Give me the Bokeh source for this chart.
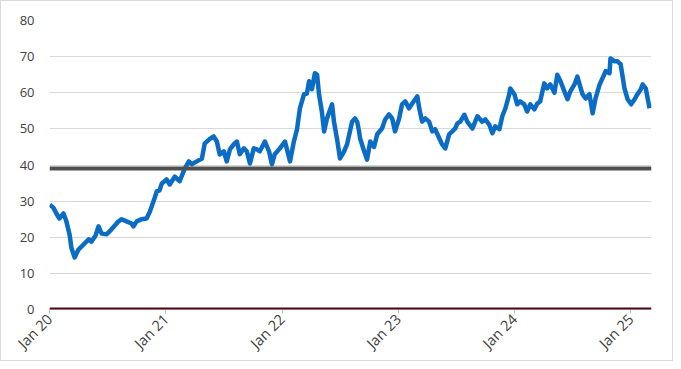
import math
import pandas as pd
from bokeh.plotting import figure
from bokeh.models import Span, FixedTicker, DatetimeTickFormatter, Range1d, ColumnDataSource
from bokeh.embed import file_html
from bokeh.resources import INLINE

dates = [
    "2020-01-02", "2020-01-13", "2020-01-23", "2020-02-01", "2020-02-14", "2020-02-23",
    "2020-03-04", "2020-03-10", "2020-03-20", "2020-04-01", "2020-04-17", "2020-05-03",
    "2020-05-12", "2020-05-25", "2020-06-03", "2020-06-13", "2020-06-28", "2020-07-14",
    "2020-08-05", "2020-08-15", "2020-08-30", "2020-09-15", "2020-09-21", "2020-10-01",
    "2020-10-17", "2020-11-01", "2020-11-11", "2020-11-27", "2020-12-03", "2020-12-12",
    "2020-12-19", "2021-01-03", "2021-01-13", "2021-01-29", "2021-02-13", "2021-03-01",
    "2021-03-14", "2021-03-23", "2021-04-08", "2021-04-24", "2021-05-03", "2021-05-16",
    "2021-05-31", "2021-06-10", "2021-06-19", "2021-07-02", "2021-07-11", "2021-07-21",
    "2021-08-02", "2021-08-12", "2021-08-21", "2021-09-03", "2021-09-12", "2021-09-22",
    "2021-10-04", "2021-10-14", "2021-10-23", "2021-11-08", "2021-11-21", "2021-11-30",
    "2021-12-09", "2021-12-25", "2022-01-10", "2022-01-26", "2022-02-07", "2022-02-17",
    "2022-02-26", "2022-03-11", "2022-03-20", "2022-03-27", "2022-04-05", "2022-04-14",
    "2022-04-21", "2022-04-27", "2022-05-06", "2022-05-13", "2022-05-22", "2022-06-07",
    "2022-06-13", "2022-06-23", "2022-07-02", "2022-07-15", "2022-07-24", "2022-08-09",
    "2022-08-18", "2022-08-25", "2022-08-31", "2022-09-03", "2022-09-16", "2022-09-25",
    "2022-10-05", "2022-10-17", "2022-10-27", "2022-11-11", "2022-11-21", "2022-12-03",
    "2022-12-13", "2022-12-22", "2023-01-04", "2023-01-13", "2023-01-23", "2023-02-04",
    "2023-02-14", "2023-03-02", "2023-03-08", "2023-03-17", "2023-03-27", "2023-04-08",
    "2023-04-18", "2023-04-27", "2023-05-10", "2023-05-19", "2023-05-29", "2023-06-10",
    "2023-06-20", "2023-06-29", "2023-07-06", "2023-07-15", "2023-07-28", "2023-08-06",
    "2023-08-22", "2023-09-07", "2023-09-22", "2023-10-02", "2023-10-14", "2023-10-24",
    "2023-11-02", "2023-11-15", "2023-11-24", "2023-12-04", "2023-12-16", "2023-12-19",
    "2024-01-01", "2024-01-10", "2024-01-19", "2024-02-01", "2024-02-10", "2024-02-20",
    "2024-03-04", "2024-03-13", "2024-03-22", "2024-04-04", "2024-04-13", "2024-04-23",
    "2024-05-06", "2024-05-15", "2024-05-25", "2024-06-06", "2024-06-16", "2024-06-25",
    "2024-07-08", "2024-07-17", "2024-07-24", "2024-08-02", "2024-08-12", "2024-08-24",
    "2024-09-03", "2024-09-12", "2024-09-25", "2024-10-04", "2024-10-14", "2024-10-26",
    "2024-10-29", "2024-11-11", "2024-11-20", "2024-11-30", "2024-12-12", "2024-12-22",
    "2025-01-02", "2025-01-13", "2025-01-22", "2025-02-01", "2025-02-07", "2025-02-17",
    "2025-02-23", "2025-03-01",
]

values = [
    29.0, 28.2, 26.5, 25.2, 26.6, 24.4,
    20.8, 17.0, 14.4, 16.6, 18.0, 19.4,
    18.8, 20.5, 23.0, 21.0, 20.8, 22.2,
    24.4, 25.0, 24.4, 23.8, 23.0, 24.4,
    25.0, 25.2, 27.0, 31.0, 32.7, 33.0,
    34.9, 36.0, 34.6, 36.8, 35.5, 39.0,
    41.0, 40.2, 41.0, 41.8, 46.0, 47.0,
    47.9, 46.5, 42.9, 43.8, 41.0, 44.3,
    45.7, 46.5, 43.0, 44.6, 43.8, 40.4,
    44.6, 44.3, 43.8, 46.5, 43.8, 40.2,
    43.0, 44.6, 46.5, 41.0, 46.5, 49.9,
    55.7, 59.6, 59.8, 63.2, 61.0, 65.4,
    65.0, 59.6, 54.8, 49.3, 52.9, 56.8,
    52.0, 47.0, 41.8, 43.8, 45.7, 52.0,
    52.9, 52.0, 49.3, 47.4, 43.8, 41.5,
    46.5, 45.0, 48.5, 50.1, 52.6, 54.0,
    52.9, 49.3, 52.9, 56.8, 57.6, 55.7,
    57.0, 59.0, 55.7, 52.0, 52.9, 52.0,
    49.3, 49.9, 47.4, 45.7, 44.6, 48.5,
    49.3, 50.1, 51.5, 52.0, 53.9, 52.0,
    50.1, 53.5, 52.0, 52.6, 51.2, 48.8,
    50.7, 49.9, 53.5, 55.7, 59.6, 61.2,
    59.6, 56.8, 57.6, 56.8, 54.8, 56.8,
    55.4, 57.0, 57.6, 62.6, 61.2, 62.3,
    60.0, 65.0, 63.2, 60.4, 58.2, 60.4,
    62.3, 64.5, 62.3, 59.6, 58.4, 59.6,
    54.3, 58.4, 62.3, 64.0, 66.0, 65.4,
    69.5, 68.7, 68.7, 67.9, 61.2, 58.2,
    56.8, 58.2, 59.6, 60.9, 62.3, 61.2,
    58.4, 55.7,
]

threshold = 39.0
baseline = 0.0
tick_dates = ["2020-01-01", "2021-01-01", "2022-01-01", "2023-01-01", "2024-01-01", "2025-01-01"]
y_ticks = [0, 10, 20, 30, 40, 50, 60, 70, 80]
x_start, x_end = "2020-01-01", "2025-03-07"

src = ColumnDataSource(dict(date=pd.to_datetime(dates), value=values))

p = figure(width=673, height=361, x_axis_type="datetime", output_backend="svg",
           toolbar_location=None, min_border_left=48, min_border_right=23,
           min_border_top=19, min_border_bottom=53)
p.x_range = Range1d(pd.Timestamp(x_start), pd.Timestamp(x_end))
p.y_range = Range1d(0, 80)
p.outline_line_color = None
p.background_fill_color = "white"
p.border_fill_color = "white"

p.xgrid.grid_line_color = None
p.ygrid.grid_line_color = "#d9d9d9"
p.ygrid.grid_line_width = 1

p.yaxis.ticker = FixedTicker(ticks=y_ticks)
p.yaxis.axis_line_color = None
p.yaxis.major_tick_line_color = None
p.yaxis.major_tick_out = 0
p.yaxis.major_tick_in = 0
p.yaxis.minor_tick_line_color = None
p.yaxis.major_label_standoff = 15
p.yaxis.major_label_text_font = "Open Sans"
p.yaxis.major_label_text_font_size = "13px"
p.yaxis.major_label_text_color = "#404040"

tick_ms = [pd.Timestamp(d).value / 1e6 for d in tick_dates]
p.xaxis.ticker = FixedTicker(ticks=tick_ms)
p.xaxis.formatter = DatetimeTickFormatter(years="%b %y", months="%b %y", days="%b %y")
p.xaxis.axis_line_color = "#d9d9d9"
p.xaxis.major_tick_line_color = "#bfbfbf"
p.xaxis.major_tick_out = 4
p.xaxis.major_tick_in = 0
p.xaxis.minor_tick_line_color = None
p.xaxis.major_label_orientation = math.pi / 4
p.xaxis.major_label_standoff = 3
p.xaxis.major_label_text_font = "Open Sans"
p.xaxis.major_label_text_font_size = "14.5px"
p.xaxis.major_label_text_color = "#404040"

p.add_layout(Span(location=threshold, dimension="width", line_color="#505050", line_width=4))
p.add_layout(Span(location=baseline, dimension="width", line_color="#4a0a14", line_width=4))

p.line("date", "value", source=src, line_color="#0a6cc4", line_width=4.5, line_join="round")

p.styles = {"border": "1px solid #d9d9d9"}

open("out.html", "w").write(file_html(p, INLINE))
